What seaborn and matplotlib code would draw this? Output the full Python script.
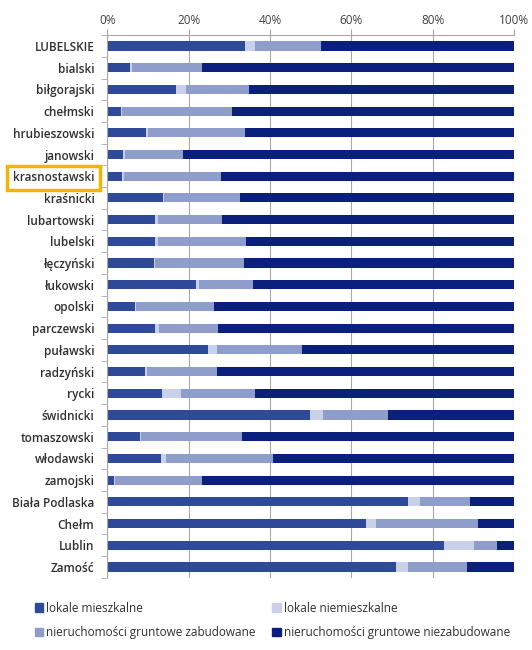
import pandas as pd
import numpy as np
import matplotlib
matplotlib.use("Agg")
import matplotlib.pyplot as plt
import seaborn as sns
from matplotlib.patches import Patch

# dane - udzial (%) wg rodzaju nieruchomosci
powiaty = ["LUBELSKIE", "bialski", "biłgorajski", "chełmski", "hrubieszowski",
           "janowski", "krasnostawski", "kraśnicki", "lubartowski", "lubelski",
           "łęczyński", "łukowski", "opolski", "parczewski", "puławski",
           "radzyński", "rycki", "świdnicki", "tomaszowski", "włodawski",
           "zamojski", "Biała Podlaska", "Chełm", "Lublin", "Zamość"]

lokale_mieszkalne = [33.8, 5.5, 16.9, 3.3, 9.5, 3.9, 3.6, 13.7, 11.7, 11.7,
                     11.5, 21.9, 6.7, 11.8, 24.7, 9.3, 13.5, 49.9, 8.0, 13.1,
                     1.7, 73.9, 63.7, 82.7, 71.0]
lokale_niemieszkalne = [2.6, 0.5, 2.3, 0.3, 0.4, 0.3, 0.5, 0.2, 0.8, 0.7,
                        0.3, 0.6, 0.4, 0.8, 2.2, 0.4, 4.5, 3.1, 0.2, 1.3,
                        0.2, 3.0, 2.4, 7.5, 2.9]
zabudowane = [16.2, 17.3, 15.6, 27.1, 23.9, 14.3, 23.8, 18.7, 15.7, 21.6,
              21.9, 13.3, 19.0, 14.6, 20.9, 17.2, 18.2, 16.1, 25.0, 26.4,
              21.4, 12.2, 25.1, 5.6, 14.6]
niezabudowane = [47.4, 76.7, 65.2, 69.3, 66.2, 81.5, 72.1, 67.4, 71.8, 66.0,
                 66.3, 64.2, 73.9, 72.8, 52.2, 73.1, 63.8, 30.9, 66.8, 59.2,
                 76.7, 10.9, 8.8, 4.2, 11.5]

serie = ["lokale mieszkalne", "lokale niemieszkalne",
         "nieruchomości gruntowe zabudowane", "nieruchomości gruntowe niezabudowane"]
kolory = ["#2F4A98", "#C9D1E8", "#8F9DCB", "#0B1F7C"]

df = pd.DataFrame({"powiat": powiaty,
                   serie[0]: lokale_mieszkalne,
                   serie[1]: lokale_niemieszkalne,
                   serie[2]: zabudowane,
                   serie[3]: niezabudowane})
cum = df[serie].cumsum(axis=1)
cum["powiat"] = df.powiat

sns.set_style("white")
plt.rcParams["font.family"] = ["Open Sans", "DejaVu Sans"]

fig = plt.figure(figsize=(5.32, 6.5), dpi=100)
ax = fig.add_axes([0.202, 0.111, 0.764, 0.835])

# stacked bars: longest first, then overlay shorter cumulative sums
for s, c in zip(serie[::-1], kolory[::-1]):
    sns.barplot(data=cum, y="powiat", x=s, order=powiaty, color=c,
                width=0.42, orient="h", ax=ax, saturation=1, linewidth=0)

ax.set_xlim(0, 100)
ax.set_ylim(len(powiaty) - 0.5, -0.5)
ax.xaxis.tick_top()
ax.set_xticks(np.arange(0, 101, 20))
ax.set_xticklabels([f"{v}%" for v in range(0, 101, 20)])
ax.set_xlabel("")
ax.set_ylabel("")
ax.grid(axis="x", color="#A8A8A8", lw=0.8)
ax.set_axisbelow(True)
for sp in ["right", "bottom"]:
    ax.spines[sp].set_visible(False)
for sp in ["top", "left"]:
    ax.spines[sp].set_color("#A8A8A8")
    ax.spines[sp].set_linewidth(0.8)

ax.tick_params(axis="x", top=True, length=4, color="#A8A8A8", labelsize=8.5,
               labelcolor="#404040", pad=2)
ax.tick_params(axis="y", which="major", left=False, labelsize=8.5,
               labelcolor="#303030", pad=6)
ax.set_yticks(np.arange(-0.5, len(powiaty), 1), minor=True)
ax.tick_params(axis="y", which="minor", left=True, length=4, color="#A8A8A8")

for lab in ax.get_yticklabels():
    lab.set_fontweight("semibold")
    if lab.get_text() == "krasnostawski":
        lab.set_bbox(dict(facecolor="white", edgecolor="#F4B400", lw=2.5, pad=4))

handles = [Patch(color=kolory[0]), Patch(color=kolory[2]),
           Patch(color=kolory[1]), Patch(color=kolory[3])]
labels = [serie[0], serie[2], serie[1], serie[3]]
fig.legend(handles, labels, ncol=2, loc="lower left", bbox_to_anchor=(0.045, 0.0),
           frameon=False, fontsize=8.5, handlelength=0.7, handleheight=0.7,
           handletextpad=0.3, columnspacing=1.4, labelspacing=1.0,
           labelcolor="#303030")

plt.savefig("out.png", dpi=100, facecolor="white")
